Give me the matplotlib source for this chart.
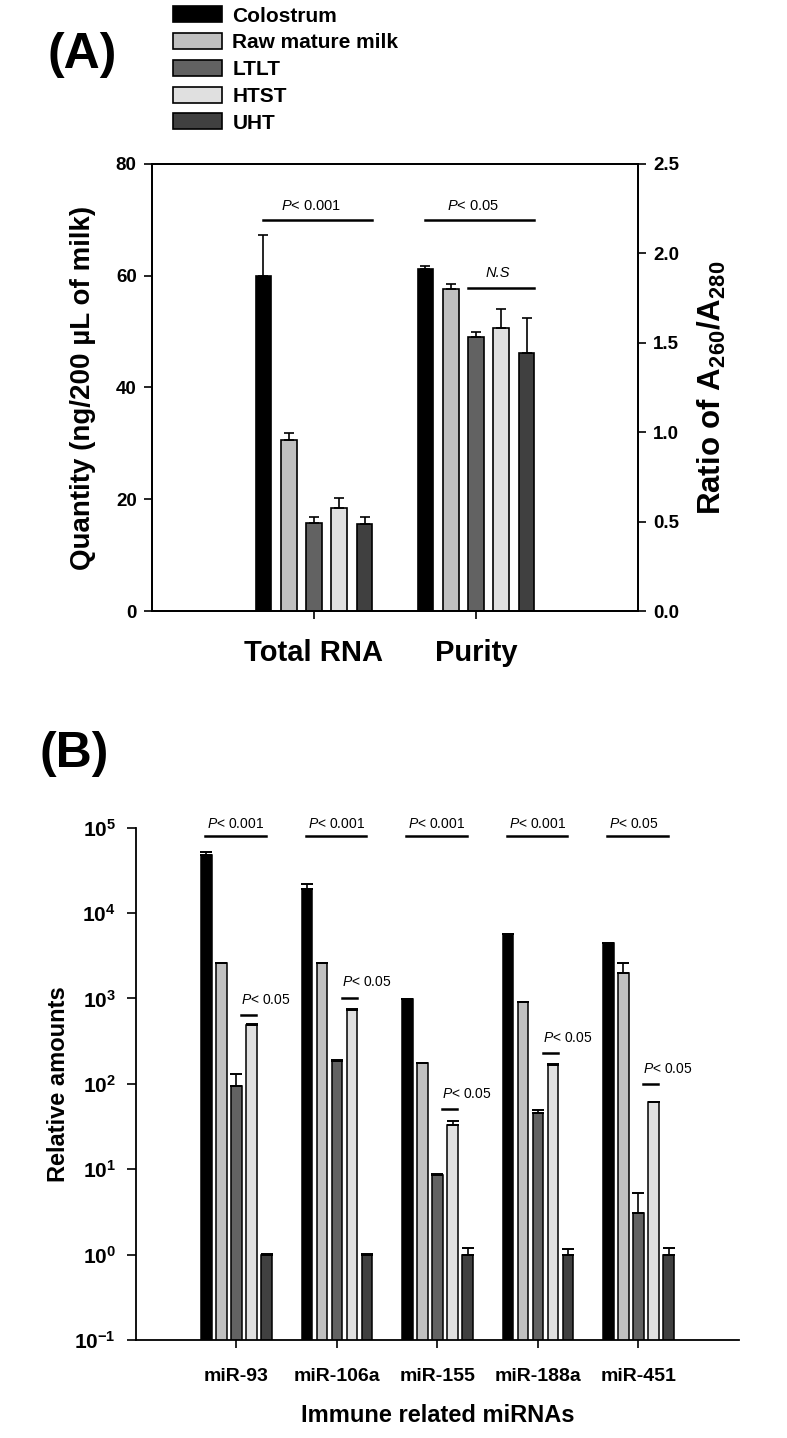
import matplotlib
matplotlib.use("Agg")
import matplotlib.pyplot as plt
import numpy as np

plt.rcParams['font.family'] = ['Liberation Sans', 'DejaVu Sans']
plt.rcParams['font.weight'] = 'bold'
plt.rcParams['axes.labelweight'] = 'bold'
plt.rcParams['mathtext.fontset'] = 'custom'
plt.rcParams['mathtext.rm'] = 'Liberation Sans:weight=normal'
plt.rcParams['mathtext.it'] = 'Liberation Sans:style=italic:weight=normal'
plt.rcParams['mathtext.bf'] = 'Liberation Sans:weight=bold'

# ---- data ----
milk_types = ["Colostrum", "Raw mature milk", "LTLT", "HTST", "UHT"]
colors = ["#000000", "#c0c0c0", "#626262", "#e0e0e0", "#404040"]

groups_a = ["Total RNA", "Purity"]
quantity = [60.0, 30.6, 15.7, 18.5, 15.5]
quantity_err = [7.3, 1.3, 1.2, 1.8, 1.4]
purity = [1.91, 1.80, 1.53, 1.58, 1.44]
purity_err = [0.02, 0.03, 0.03, 0.11, 0.20]

mirnas = ["miR-93", "miR-106a", "miR-155", "miR-188a", "miR-451"]
colostrum = [47700, 19000, 980, 5640, 4420]
colostrum_err = [3600, 2700, 10, 50, 40]
raw_milk = [2580, 2580, 174, 900, 2000]
raw_milk_err = [30, 30, 3, 10, 600]
ltlt = [94, 185, 8.6, 46, 3.05]
ltlt_err = [36, 3, 0.1, 3.3, 2.25]
htst = [484, 731, 33, 166, 60.7]
htst_err = [16, 20, 3.4, 6, 0.5]
uht = [1.0, 1.0, 1.0, 1.0, 1.0]
uht_err = [0.03, 0.03, 0.19, 0.15, 0.19]

sig_big = ["P< 0.001", "P< 0.001", "P< 0.001", "P< 0.001", "P< 0.05"]
sig_small_y = [640, 1020, 51, 231, 100]

fig = plt.figure(figsize=(7.87, 14.38), dpi=100)

def sig_text(ax, x, y, s, **kw):
    p, rest = s.split("<")
    ax.text(x, y, r"$\mathit{%s}$<%s" % (p, rest), fontweight="normal", **kw)

# ---- panel A ----
ax = fig.add_axes([0.1931, 0.5751, 0.6176, 0.3109])
ax2 = ax.twinx()
step_a, width_a = 0.156, 0.097
offs_a = (np.arange(5) - 2) * step_a
handles = []
for i in range(5):
    h = ax.bar(1 + offs_a[i], quantity[i], width_a, color=colors[i], edgecolor="black", lw=1.2,
               yerr=[[0], [quantity_err[i]]], capsize=3.3, error_kw=dict(lw=1.2, capthick=1.2))
    ax2.bar(2 + offs_a[i], purity[i], width_a, color=colors[i], edgecolor="black", lw=1.2,
            yerr=[[0], [purity_err[i]]], capsize=3.3, error_kw=dict(lw=1.2, capthick=1.2))
    handles.append(h)

ax.set_xlim(0, 3)
ax.set_ylim(0, 80)
ax2.set_ylim(0, 2.5)
ax.set_yticks([0, 20, 40, 60, 80])
ax2.set_yticks([0, 0.5, 1.0, 1.5, 2.0, 2.5])
ax2.set_yticklabels(["0.0", "0.5", "1.0", "1.5", "2.0", "2.5"])
ax.set_xticks([1, 2])
ax.set_xticklabels(groups_a, fontsize=21)
ax.tick_params(axis="y", labelsize=13.5, length=6, width=1.2, pad=5)
ax.tick_params(axis="x", length=6, width=1.2, pad=14)
ax2.tick_params(axis="y", labelsize=13.5, length=6, width=1.2, pad=5)
for a in (ax, ax2):
    for sp in a.spines.values():
        sp.set_linewidth(1.3)
ax.set_ylabel("Quantity (ng/200 \u00b5L of milk)", fontsize=20, labelpad=14)
ax2.set_ylabel(r"Ratio of A$_{\mathbf{260}}$/A$_{\mathbf{280}}$", fontsize=22.5, labelpad=12)

# significance marks, panel A (left-axis units)
ax2.set_zorder(ax.get_zorder() - 1)
ax.patch.set_visible(False)
for c, lbl in zip([1, 2], ["P< 0.001", "P< 0.05"]):
    x0, x1 = c + offs_a[0], c + offs_a[4] + width_a / 2
    ax.plot([x0, x1], [70, 70], color="black", lw=1.8)
    sig_text(ax, (x0 + x1) / 2 - 0.04, 71.3, lbl, fontsize=10.5, ha="center", va="bottom")
x0, x1 = 2 + offs_a[2] - width_a / 2, 2 + offs_a[4] + width_a / 2
ax.plot([x0, x1], [57.8, 57.8], color="black", lw=1.8)
ax.text((x0 + x1) / 2 - 0.02, 59.2, "N.S", fontsize=10.5, fontstyle="italic", fontweight="normal",
        ha="center", va="bottom")

fig.text(0.06, 0.962, "(A)", fontsize=36, fontweight="bold", ha="left", va="center")
fig.legend(handles, milk_types, loc="upper left", bbox_to_anchor=(0.2198, 0.9955), frameon=False,
           fontsize=15, handlelength=2.35, handleheight=0.8, labelspacing=0.36,
           handletextpad=0.5, borderpad=0, borderaxespad=0)

# ---- panel B ----
bx = fig.add_axes([0.1728, 0.0681, 0.7662, 0.3563])
step_b, width_b = 0.15, 0.104
offs_b = (np.arange(5) - 2) * step_b
xb = np.arange(1, 6)
series = [(colostrum, colostrum_err), (raw_milk, raw_milk_err), (ltlt, ltlt_err),
          (htst, htst_err), (uht, uht_err)]
for i, (vals, errs) in enumerate(series):
    bx.bar(xb + offs_b[i], vals, width_b, color=colors[i], edgecolor="black", lw=1.1,
           yerr=[np.zeros(5), errs], capsize=4, error_kw=dict(lw=1.2, capthick=1.4))

bx.set_yscale("log")
bx.set_ylim(0.1, 1e5)
bx.set_xlim(0, 6)
bx.set_yticks([10.0 ** k for k in range(-1, 6)])
bx.set_yticklabels([r"$\mathbf{10^{%d}}$" % k for k in range(-1, 6)])
bx.yaxis.set_minor_locator(matplotlib.ticker.NullLocator())
bx.set_xticks(xb)
bx.set_xticklabels(mirnas, fontsize=14)
bx.tick_params(axis="y", labelsize=15, length=6.5, width=1.2, pad=8)
bx.tick_params(axis="x", length=6, width=1.2, pad=14)
bx.spines["top"].set_visible(False)
bx.spines["right"].set_visible(False)
for sp in ("left", "bottom"):
    bx.spines[sp].set_linewidth(1.3)
bx.set_ylabel("Relative amounts", fontsize=17, labelpad=3)
bx.set_xlabel("Immune related miRNAs", fontsize=17, labelpad=14)

for c, lbl, ys in zip(xb, sig_big, sig_small_y):
    bx.plot([c - 0.31, c + 0.29], [8.0e4, 8.0e4], color="black", lw=1.8, clip_on=False)
    sig_text(bx, c - 0.29, 9.2e4, lbl, fontsize=10, ha="left", va="bottom")
    bx.plot([c + offs_b[2] + 0.3 * step_b, c + offs_b[3] + 0.3 * step_b], [ys, ys], color="black", lw=1.8)
    sig_text(bx, c + offs_b[2] + 0.3 * step_b, ys * 1.25, "P< 0.05", fontsize=10, ha="left", va="bottom")

fig.text(0.05, 0.4757, "(B)", fontsize=36, fontweight="bold", ha="left", va="center")

fig.savefig("out.png", dpi=100)
